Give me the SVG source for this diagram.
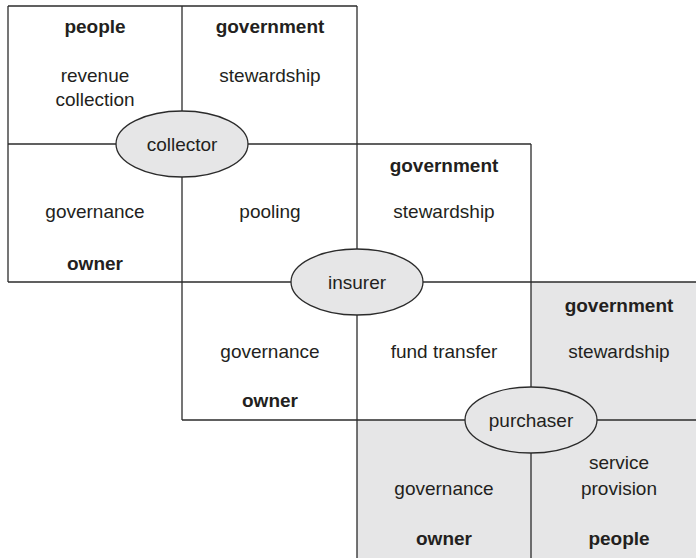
<svg xmlns="http://www.w3.org/2000/svg" width="696" height="558" viewBox="0 0 696 558">
<style>
.ln{stroke:#2b2b2b;stroke-width:1.3;fill:none}
.el{fill:#e6e6e7;stroke:#2b2b2b;stroke-width:1.3}
text{font-family:"Liberation Sans",Arial,sans-serif;font-size:19px;fill:#231f20;text-anchor:middle}
.b{font-weight:bold}
</style>
<rect width="696" height="558" fill="#ffffff"/>
<polygon points="531,282 700,282 700,560 357,560 357,420 531,420" fill="#e6e6e7"/>
<g id="connectors">
<line class="ln" x1="8" y1="6" x2="357" y2="6"/>
<line class="ln" x1="8" y1="144" x2="531" y2="144"/>
<line class="ln" x1="8" y1="282" x2="700" y2="282"/>
<line class="ln" x1="182" y1="420" x2="700" y2="420"/>
<line class="ln" x1="8" y1="6" x2="8" y2="282"/>
<line class="ln" x1="182" y1="6" x2="182" y2="420"/>
<line class="ln" x1="357" y1="6" x2="357" y2="560"/>
<line class="ln" x1="531" y1="144" x2="531" y2="560"/>
</g>
<g id="cell-people-revenue">
<text class="b" x="95" y="33">people</text>
<text x="95" y="82">revenue</text>
<text x="95" y="106">collection</text>
</g>
<g id="cell-gov-stewardship-1">
<text class="b" x="270" y="33">government</text>
<text x="270" y="82">stewardship</text>
</g>
<g id="cell-governance-owner-1">
<text x="95" y="218">governance</text>
<text class="b" x="95" y="270">owner</text>
</g>
<g id="cell-pooling">
<text x="270" y="218">pooling</text>
</g>
<g id="cell-gov-stewardship-2">
<text class="b" x="444" y="172">government</text>
<text x="444" y="218">stewardship</text>
</g>
<g id="cell-governance-owner-2">
<text x="270" y="358">governance</text>
<text class="b" x="270" y="407">owner</text>
</g>
<g id="cell-fund-transfer">
<text x="444" y="358">fund transfer</text>
</g>
<g id="cell-gov-stewardship-3">
<text class="b" x="619" y="312">government</text>
<text x="619" y="358">stewardship</text>
</g>
<g id="cell-governance-owner-3">
<text x="444" y="495">governance</text>
<text class="b" x="444" y="545">owner</text>
</g>
<g id="cell-service-people">
<text x="619" y="469">service</text>
<text x="619" y="495">provision</text>
<text class="b" x="619" y="545">people</text>
</g>
<g id="collector">
<ellipse class="el" cx="182" cy="144" rx="66" ry="33"/>
<text x="182" y="151">collector</text>
</g>
<g id="insurer">
<ellipse class="el" cx="357" cy="282" rx="66" ry="33"/>
<text x="357" y="289">insurer</text>
</g>
<g id="purchaser">
<ellipse class="el" cx="531" cy="420" rx="66" ry="33"/>
<text x="531" y="427">purchaser</text>
</g>
</svg>
